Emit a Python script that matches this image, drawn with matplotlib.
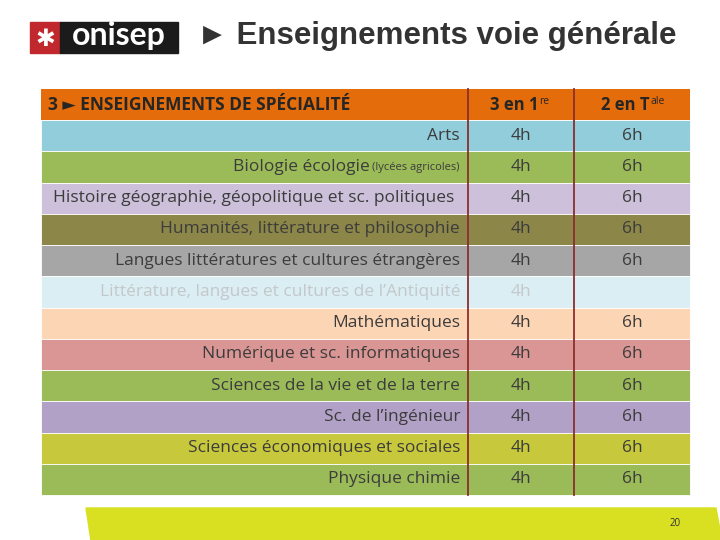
import matplotlib
matplotlib.use("Agg")
import matplotlib.pyplot as plt
from matplotlib.patches import Rectangle, Polygon

# table content
subjects = [
    "Arts",
    "Biologie écologie",
    "Histoire géographie, géopolitique et sc. politiques",
    "Humanités, littérature et philosophie",
    "Langues littératures et cultures étrangères",
    "Littérature, langues et cultures de l’Antiquité",
    "Mathématiques",
    "Numérique et sc. informatiques",
    "Sciences de la vie et de la terre",
    "Sc. de l’ingénieur",
    "Sciences économiques et sociales",
    "Physique chimie",
]
hours_1re = ["4h"] * 12
hours_tale = ["6h", "6h", "6h", "6h", "6h", "", "6h", "6h", "6h", "6h", "6h", "6h"]
row_colors = ["#92cddc", "#9bbb59", "#ccc0da", "#8c8648", "#a6a6a6", "#daeef3",
              "#fcd5b4", "#d99694", "#9bbb59", "#b2a1c7", "#c8c83c", "#9bbb59"]
text_colors = ["#3c3c3c"] * 5 + ["#c4c8ca"] + ["#3c3c3c"] * 6

title = "► Enseignements voie générale"
header = "3 ► ENSEIGNEMENTS DE SPÉCIALITÉ"
col_heads = [("3 en 1", "re"), ("2 en T", "ale")]
bio_note = "(lycées agricoles)"
page_no = "20"

# layout in pixels
W, H = 720, 540
col_edges = [41, 468, 574, 690]
top, head_h, row_h = 89, 31, 31.25

fig = plt.figure(figsize=(7.2, 5.4), dpi=100)
ax = fig.add_axes([0, 0, 1, 1])
ax.set_xlim(0, W)
ax.set_ylim(H, 0)
ax.axis("off")

FAM = ["Open Sans", "DejaVu Sans"]
BODY = 12.5

# logo
ax.add_patch(Rectangle((30, 22), 30, 31, color="#c0282d"))
ax.add_patch(Rectangle((60, 22), 118, 31, color="#1b1b1b"))
ax.text(45, 38.5, "✱", color="white", fontsize=17, ha="center", va="center",
        family="DejaVu Sans", fontweight="bold")
ax.text(119, 36, "onisep", color="white", fontsize=23, ha="center", va="center",
        family="Lato", fontweight="bold")
ax.text(197, 36, title, color="#333333", fontsize=22.5, ha="left", va="center",
        family=["Liberation Sans", "DejaVu Sans"], fontweight="bold")

# header row
ax.barh(top + head_h / 2, col_edges[-1] - col_edges[0], height=head_h,
        left=col_edges[0], color="#e46c0a")
ax.text(48, top + head_h / 2, header, fontsize=12.5, fontweight="bold",
        color="#262626", ha="left", va="center", family=FAM)

fig.canvas.draw()
rend = fig.canvas.get_renderer()

for k, (main, sup) in enumerate(col_heads):
    xc = (col_edges[k + 1] + col_edges[k + 2]) / 2
    t = ax.text(xc - 7, top + head_h / 2 + 1, main, fontsize=12, fontweight="bold",
                color="#262626", ha="center", va="center", family=FAM)
    bb = t.get_window_extent(rend)
    ax.text(bb.x1 + 1, top + 12, sup, fontsize=7.5, color="#262626",
            ha="left", va="center", family=FAM)

# body rows
ys = [top + head_h + (i + 0.5) * row_h for i in range(len(subjects))]
ax.barh(ys, col_edges[-1] - col_edges[0], height=row_h, left=col_edges[0],
        color=row_colors, edgecolor="white", linewidth=0.6)

xc2 = (col_edges[1] + col_edges[2]) / 2
xc3 = (col_edges[2] + col_edges[3]) / 2
for i, y in enumerate(ys):
    c = text_colors[i]
    if i == 1:
        n = ax.text(460, y + 1, bio_note, fontsize=8, color=c, ha="right",
                    va="center", family=FAM)
        bb = n.get_window_extent(rend)
        xr = ax.transData.inverted().transform((bb.x0, 0))[0] - 3
        ax.text(xr, y, subjects[i], fontsize=BODY, color=c, ha="right",
                va="center", family=FAM)
    else:
        xr = 454 if i == 2 else 460
        ax.text(xr, y, subjects[i], fontsize=BODY, color=c, ha="right",
                va="center", family=FAM)
    ax.text(xc2, y, hours_1re[i], fontsize=BODY, color=c, ha="center",
            va="center", family=FAM)
    ax.text(xc3, y, hours_tale[i], fontsize=BODY, color=c, ha="center",
            va="center", family=FAM)

# column dividers
bottom = ys[-1] + row_h / 2
for x in col_edges[1:3]:
    ax.plot([x, x], [top, bottom], color="#8b2e2e", lw=1.3)

# footer band
ax.add_patch(Polygon([(86, 508), (716, 508), (722, 541), (91, 541)],
                     closed=True, color="#d9e021"))
ax.text(675, 524, page_no, fontsize=7, color="#333333", ha="center",
        va="center", family=FAM)

fig.savefig("out.png", dpi=100)
